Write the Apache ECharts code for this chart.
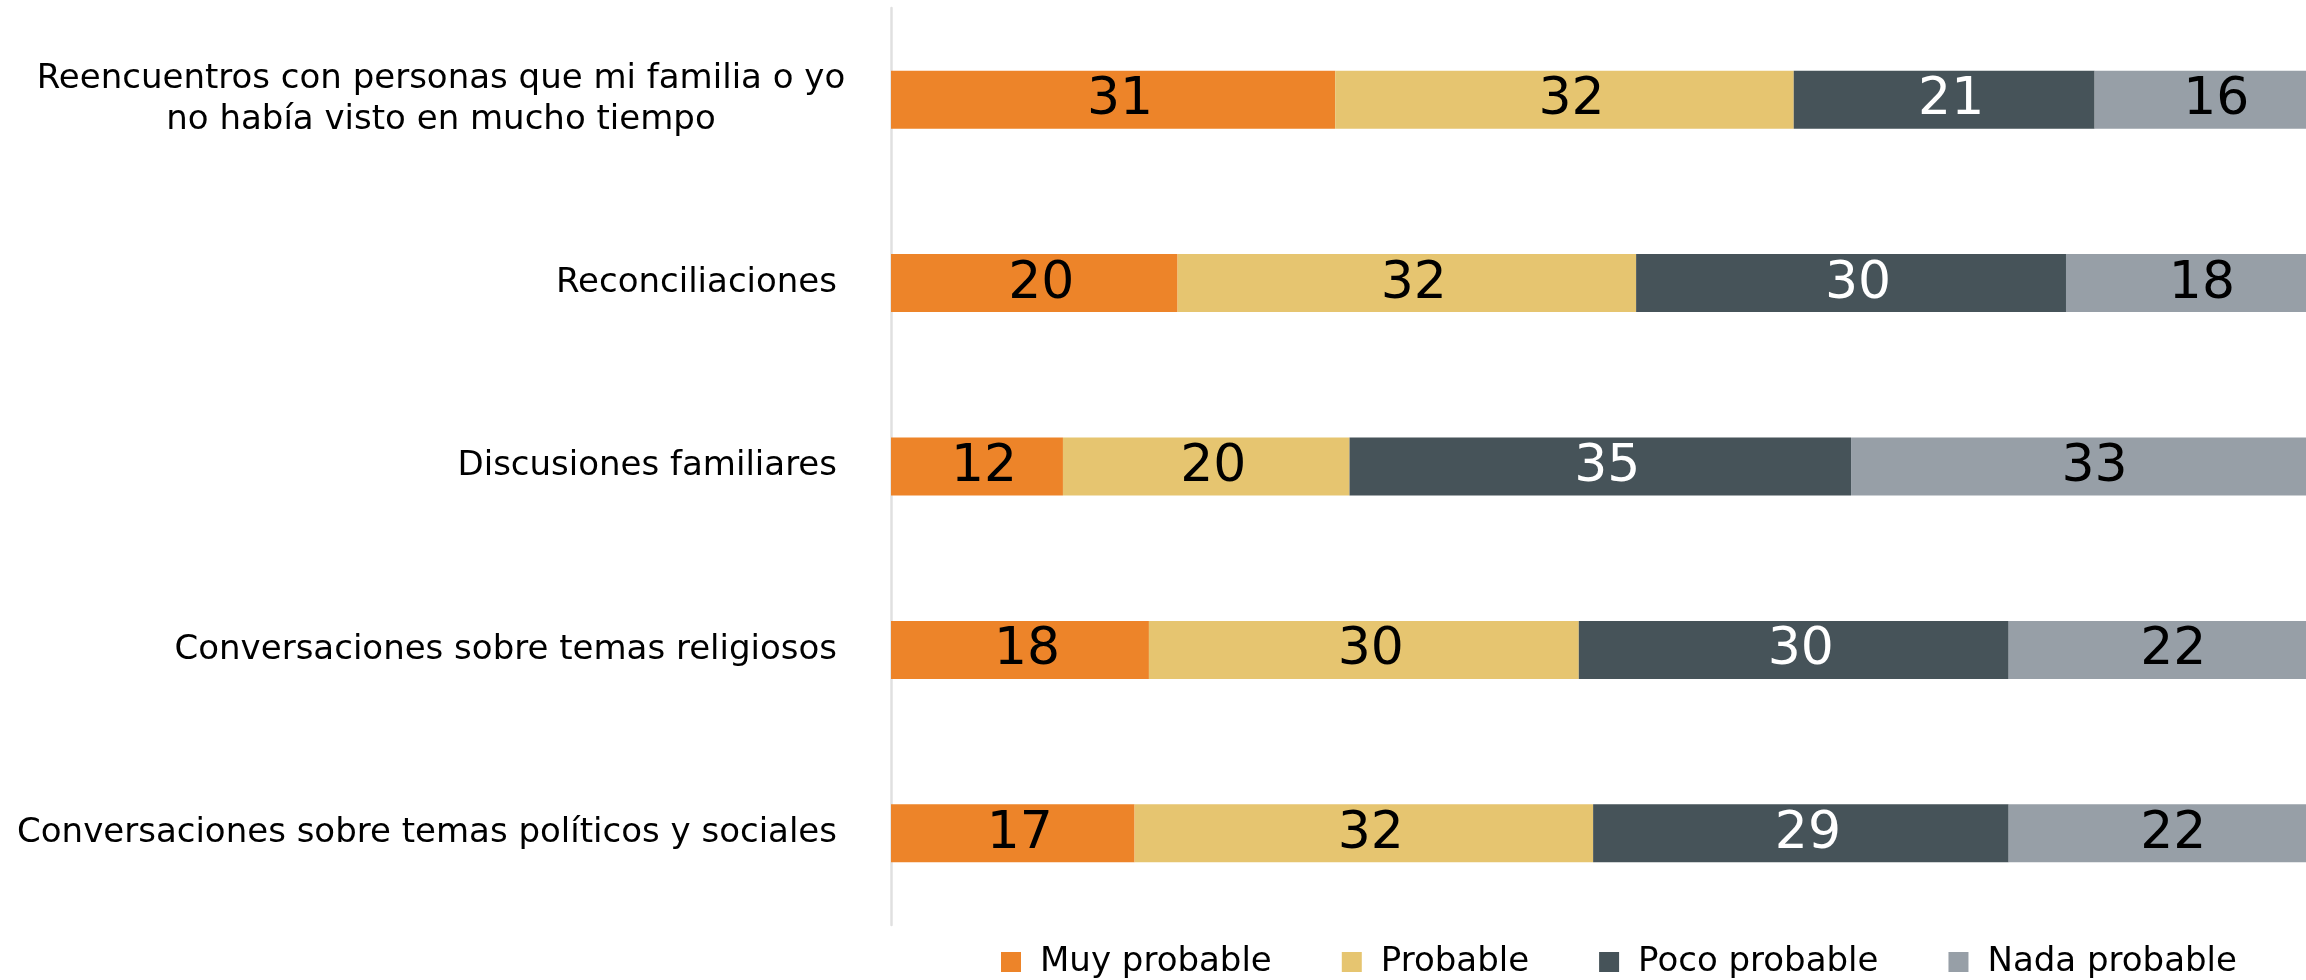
<!DOCTYPE html>
<html>
<head>
<meta charset="utf-8">
<script src="https://cdn.jsdelivr.net/npm/echarts@6/dist/echarts.min.js"></script>
<style>
html,body{margin:0;padding:0;background:#fff;}
#chart{width:2306px;height:980px;}
</style>
</head>
<body>
<div id="chart"></div>
<script>
const categories = [
  "Reencuentros con personas que mi familia o yo\nno había visto en mucho tiempo",
  "Reconciliaciones",
  "Discusiones familiares",
  "Conversaciones sobre temas religiosos",
  "Conversaciones sobre temas políticos y sociales"
];
const seriesNames = ["Muy probable", "Probable", "Poco probable", "Nada probable"];
const muyProbable = [31, 20, 12, 18, 17];
const probable = [32, 32, 20, 30, 32];
const pocoProbable = [21, 30, 35, 30, 29];
const nadaProbable = [16, 18, 33, 22, 22];
const colors = ["#ED8429", "#E6C570", "#465359", "#979FA7"];
const labelColors = ["#000", "#000", "#fff", "#000"];
const values = [muyProbable, probable, pocoProbable, nadaProbable];

const FONT = "DejaVu Sans";
const chart = echarts.init(document.getElementById('chart'));
const series = seriesNames.map((name, i) => ({
  name: name,
  type: 'bar',
  stack: 'total',
  barWidth: 58,
  clip: false,
  data: values[i],
  itemStyle: { color: colors[i] },
  label: {
    show: true,
    position: 'inside',
    offset: [7, 1],
    color: labelColors[i],
    fontFamily: FONT,
    fontSize: 52,
    fontWeight: 'normal'
  }
}));

chart.setOption({
  animation: false,
  textStyle: { fontFamily: FONT },
  grid: { left: 891, right: 0, top: 8, bottom: 55, containLabel: false },
  legend: {
    data: seriesNames,
    left: 996,
    top: 940,
    icon: 'rect',
    itemWidth: 20,
    itemHeight: 20,
    itemGap: 70,
    textStyle: { fontFamily: FONT, fontSize: 34, color: '#000', padding: [0, 0, 0, 14] }
  },
  xAxis: {
    type: 'value',
    min: 0,
    max: 98.75,
    show: false
  },
  yAxis: {
    type: 'category',
    data: categories,
    inverse: true,
    axisLine: { show: true, lineStyle: { color: '#e0e0e0', width: 2.5 } },
    axisTick: { show: false },
    splitLine: { show: false },
    axisLabel: {
      margin: 54,
      color: '#000',
      fontFamily: FONT,
      fontSize: 34,
      lineHeight: 41,
      formatter: function (v) {
        if (v.indexOf('\n') >= 0) {
          return v.split('\n').map(s => '{c|' + s + '}').join('\n');
        }
        return v;
      },
      rich: {
        c: { width: 792, align: 'center', fontFamily: FONT, fontSize: 34, lineHeight: 41, color: '#000' }
      }
    }
  },
  series: series
});
</script>
</body>
</html>
